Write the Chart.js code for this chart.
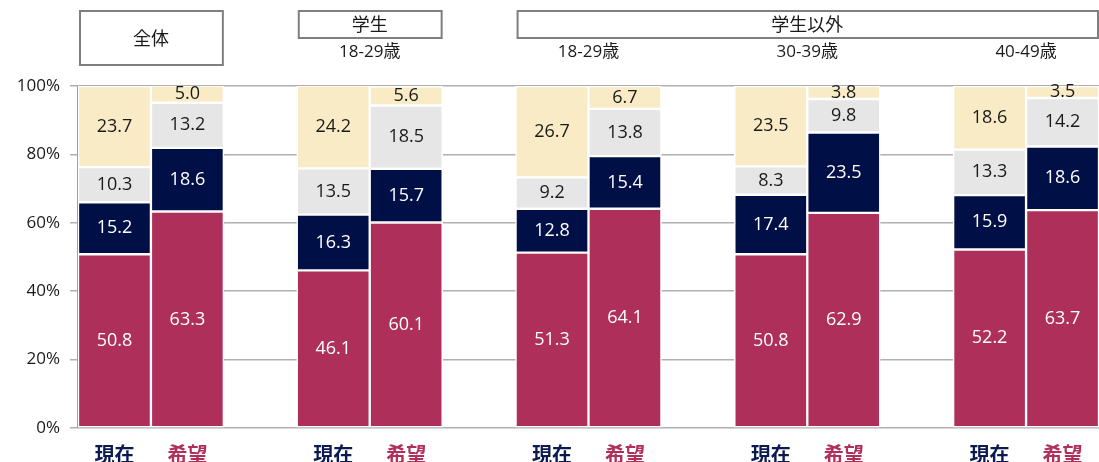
<!DOCTYPE html>
<html>
<head>
<meta charset="utf-8">
<script src="https://cdn.jsdelivr.net/npm/chart.js@4.4.0/dist/chart.umd.min.js"></script>
<style>
  html, body { margin: 0; padding: 0; background: #fff; }
  #wrap { width: 1099px; height: 462px; }
</style>
</head>
<body>
<div id="wrap"><canvas id="myChart" width="1099" height="462"></canvas></div>
<script>
// categories: 現在 / 希望 per group, blank slot as spacer
const labels = ['現在', '希望', '', '現在', '希望', '', '現在', '希望', '', '現在', '希望', '', '現在', '希望'];

// series (segments from bottom to top)
const seriesA = [50.8, 63.3, null, 46.1, 60.1, null, 51.3, 64.1, null, 50.8, 62.9, null, 52.2, 63.7];
const seriesB = [15.2, 18.6, null, 16.3, 15.7, null, 12.8, 15.4, null, 17.4, 23.5, null, 15.9, 18.6];
const seriesC = [10.3, 13.2, null, 13.5, 18.5, null, 9.2, 13.8, null, 8.3, 9.8, null, 13.3, 14.2];
const seriesD = [23.7, 5.0, null, 24.2, 5.6, null, 26.7, 6.7, null, 23.5, 3.8, null, 18.6, 3.5];

const yTicks = [0, 20, 40, 60, 80, 100];

// header boxes and age labels
const boxLabels = ['全体', '学生', '学生以外'];
const ageLabels = ['18-29歳', '18-29歳', '30-39歳', '40-49歳'];

const colors = ['#ad2f5a', '#000f45', '#e6e6e6', '#f8ebc6'];
const labelColors = ['#ffffff', '#ffffff', '#1a1a1a', '#1a1a1a'];
const font = '"Open Sans", "Noto Sans CJK JP", sans-serif';
const cjkFont = '"Noto Sans CJK JP", sans-serif';

const valueLabels = {
  id: 'valueLabels',
  afterDatasetsDraw(chart) {
    const ctx = chart.ctx;
    ctx.save();
    ctx.font = '18px ' + font;
    ctx.textAlign = 'center';
    ctx.textBaseline = 'middle';
    chart.data.datasets.forEach((ds, di) => {
      const meta = chart.getDatasetMeta(di);
      meta.data.forEach((bar, i) => {
        const v = ds.data[i];
        if (v == null) return;
        const y = (bar.y + bar.base) / 2;
        ctx.fillStyle = labelColors[di];
        ctx.fillText(v.toFixed(1), bar.x, y);
      });
    });
    ctx.restore();
  }
};

const headers = {
  id: 'headers',
  afterDraw(chart) {
    const ctx = chart.ctx;
    const x = chart.scales.x;
    const half = (x.getPixelForValue(1) - x.getPixelForValue(0)) / 2;
    const left = i => x.getPixelForValue(i) - half + 2;
    const right = i => x.getPixelForValue(i) + half - 1;
    const mid = (a, b) => (x.getPixelForValue(a) + x.getPixelForValue(b)) / 2;
    ctx.save();
    ctx.strokeStyle = '#7f7f7f';
    ctx.lineWidth = 2;
    ctx.fillStyle = '#1a1a1a';
    ctx.textAlign = 'center';
    ctx.textBaseline = 'middle';
    ctx.font = '18px ' + cjkFont;
    // 全体
    ctx.strokeRect(left(0), 11, right(1) - left(0), 54);
    ctx.fillText(boxLabels[0], mid(0, 1), 38);
    // 学生
    ctx.strokeRect(left(3), 11, right(4) - left(3), 27);
    ctx.fillText(boxLabels[1], mid(3, 4), 24);
    // 学生以外
    ctx.strokeRect(left(6), 11, right(13) - left(6), 27);
    ctx.fillText(boxLabels[2], mid(6, 13), 24);
    // age labels
    ctx.font = '17px ' + font;
    const ageCenters = [mid(3, 4), mid(6, 7), mid(9, 10), mid(12, 13)];
    ageCenters.forEach((cx, k) => ctx.fillText(ageLabels[k], cx, 52));
    ctx.restore();
  }
};

new Chart(document.getElementById('myChart').getContext('2d'), {
  type: 'bar',
  data: {
    labels: labels,
    datasets: [seriesA, seriesB, seriesC, seriesD].map((d, k) => ({
      data: d,
      backgroundColor: colors[k],
      borderColor: '#ffffff',
      borderWidth: 1.5,
      borderSkipped: false,
      barPercentage: 1,
      categoryPercentage: 1
    }))
  },
  options: {
    responsive: false,
    animation: false,
    layout: { padding: { top: 86, right: 0, left: 0, bottom: 0 } },
    plugins: {
      legend: { display: false },
      tooltip: { enabled: false }
    },
    scales: {
      x: {
        stacked: true,
        grid: { display: false },
        border: { display: false },
        afterFit: axis => { axis.height = 34; },
        ticks: {
          font: { size: 20, weight: 'bold', family: cjkFont },
          color: ctx => (ctx.index % 3 === 0 ? '#0c1a52' : '#b0305a'),
          padding: 6,
          maxRotation: 0,
          autoSkip: false
        }
      },
      y: {
        stacked: true,
        min: 0,
        max: 100,
        afterBuildTicks: axis => { axis.ticks = yTicks.map(v => ({ value: v })); },
        afterFit: axis => { axis.width = 78; },
        grid: { color: '#b0b0b0', lineWidth: 1.5, tickLength: 8 },
        border: { color: '#a0a0a0', width: 1.5 },
        ticks: {
          font: { size: 17, family: font },
          color: '#1a1a1a',
          padding: 10,
          callback: v => v + '%'
        }
      }
    }
  },
  plugins: [valueLabels, headers]
});
</script>
</body>
</html>
